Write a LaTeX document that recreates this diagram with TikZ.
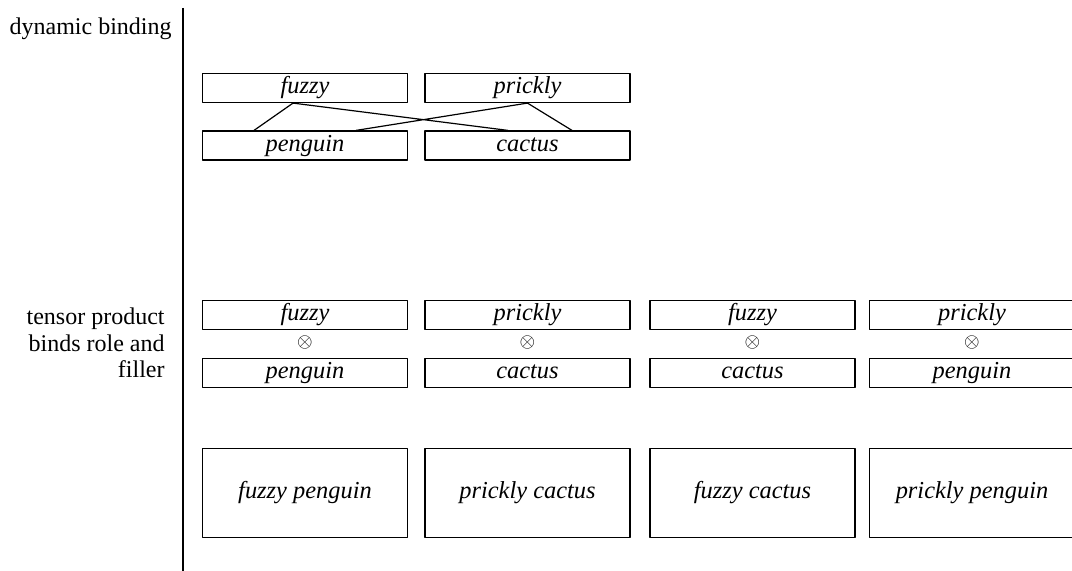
\documentclass[tikz,border=0pt]{standalone}
\usepackage{fontspec}
\setmainfont{Liberation Serif}
\usetikzlibrary{calc}

\tikzset{
	every node/.style={font=\fontsize{12}{13.3}\selectfont},
	rolebox/.style={draw, line width=0.6pt, minimum width=102.5pt, minimum height=14.5pt, inner sep=0pt, text height=8.5pt, text depth=2.5pt, font=\fontsize{12.2}{13.3}\selectfont\itshape},
	pairbox/.style={rolebox, minimum height=44.5pt},
	sidelabel/.style={align=right, anchor=east, inner sep=0pt}
}

\begin{document}
\begin{tikzpicture}[x=0.5pt, y=-0.5pt, line join=round]
\useasboundingbox (0,0) rectangle (1072,571);
% divider
\coordinate (divtop) at (183,8);
\coordinate (divbot) at (183,571);
\draw[line width=0.6pt] (divtop) -- (divbot);
% side labels
\node[sidelabel] (dynlab) at (172,29) {dynamic binding};
\node[sidelabel] (tenlab) at (165,343) {tensor product\\binds role and\\filler};
% dynamic binding
\node[rolebox] (fz) at (305,88) {fuzzy};
\node[rolebox] (pr) at (527.5,88) {prickly};
\node[rolebox] (pg) at (305,145.5) {penguin};
\node[rolebox] (ct) at (527.5,145.5) {cactus};
\draw[line width=0.6pt] ($(pg.north)+(-51,0)$) -- ($(fz.south)+(-12,0)$) -- ($(ct.north)+(-19.5,0)$)
	($(pg.north)+(51,0)$) -- (pr.south) -- ($(ct.north)+(44.5,0)$);
% tensor product rows and bound pairs
\foreach \c/\x/\role/\filler in {1/305/fuzzy/penguin, 2/527.5/prickly/cactus, 3/752.5/fuzzy/cactus, 4/972/prickly/penguin}{
	\node[rolebox] (r\c) at (\x,315) {\role};
	\node[font=\fontsize{10}{10}\selectfont, inner sep=0pt] (x\c) at (\x,343) {$\otimes$};
	\node[rolebox] (f\c) at (\x,373) {\filler};
	\node[pairbox] (b\c) at (\x,493) {\role\ \filler};
}
\end{tikzpicture}
\end{document}
